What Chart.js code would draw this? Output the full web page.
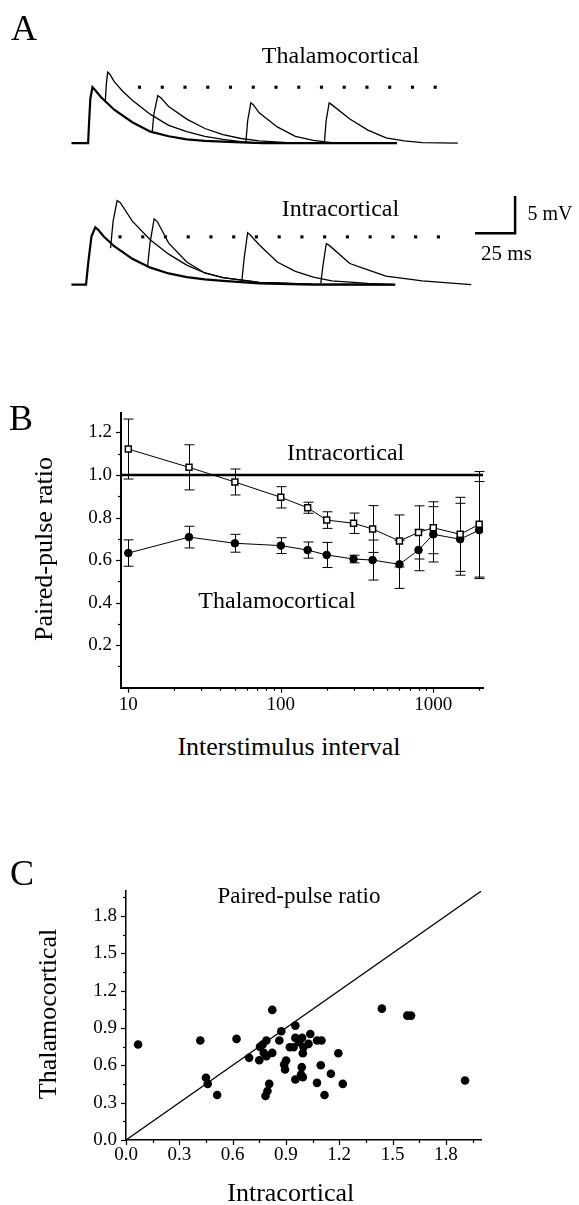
<!DOCTYPE html>
<html><head><meta charset="utf-8">
<script src="https://cdn.jsdelivr.net/npm/chart.js@4.4.1/dist/chart.umd.min.js"></script>
<style>
html,body{margin:0;padding:0;background:#fff;}
body{width:579px;height:1205px;position:relative;overflow:hidden;font-family:'Liberation Serif','Times New Roman',serif;color:#000;}
canvas{position:absolute;left:0;}
.t{position:absolute;white-space:nowrap;line-height:1;font-family:'Liberation Serif','Times New Roman',serif;color:#000;}
</style></head><body>
<canvas id="aTop" style="top:40px" width="579" height="130"></canvas>
<canvas id="aBot" style="top:170px" width="579" height="140"></canvas>
<canvas id="b" style="top:380px" width="579" height="340"></canvas>
<canvas id="c" style="top:870px" width="579" height="335"></canvas>
<script>
// ---------------- Panel A : traces (time in ms, potential in mV) ----------------
const tcControlT = [0, 10.4, 11.0, 11.8, 13.1, 15.0, 18.5, 26.7, 38.0, 49.3, 60.7, 72.0, 83.3, 94.6, 105.9, 120, 160, 203.2];
const tcControlV = [0, 0, 2.8, 6.0, 7.55, 7.1, 6.2, 4.51, 2.83, 1.56, 0.93, 0.51, 0.3, 0.21, 0.1, 0, 0, 0];
const tc10T = [21.1, 21.8, 22.6, 24.0, 26.7, 32.0, 38.0, 49.3, 60.7, 72.0, 83.3, 94.6, 105.9, 117.2, 194.2];
const tc10V = [5.6, 8.0, 9.58, 9.3, 8.31, 7.0, 5.78, 3.88, 2.41, 1.56, 0.93, 0.51, 0.21, 0, 0];
const tc40T = [50.4, 51.5, 53.9, 56.0, 60.7, 72.0, 83.3, 94.6, 105.9, 117.2, 139.8, 203.2];
const tc40V = [1.5, 4.0, 6.41, 6.1, 4.94, 3.25, 1.98, 1.14, 0.63, 0.3, 0, 0];
const tc100T = [108.9, 110.0, 112.0, 113.5, 117.2, 128.5, 139.8, 151.1, 162.5, 203.2];
const tc100V = [0.1, 3.0, 5.44, 5.2, 4.09, 2.19, 0.93, 0.38, 0.08, 0];
const tc150T = [157.9, 159.0, 160.9, 162.5, 173.8, 185.1, 196.4, 207.8, 219.0, 241.2];
const tc150V = [0, 3.0, 5.44, 5.2, 3.25, 1.77, 0.72, 0.30, 0.08, 0];
const tcDotsT = [42.5, 56.7, 70.9, 85.1, 99.3, 113.5, 127.7, 141.9, 156.1, 170.3, 184.5, 198.7, 212.9, 227.1];
const tcDotLevel = 7.55;

const icControlT = [0, 9.1, 10.5, 12.5, 14.9, 17.0, 20.0, 26.7, 38.0, 49.3, 60.7, 72.0, 83.3, 94.6, 117.2, 150, 202.1];
const icControlV = [0, 0, 3.0, 6.5, 7.68, 7.3, 6.5, 5.15, 3.46, 2.28, 1.5, 1.01, 0.7, 0.51, 0.17, 0, 0];
const ic10T = [24.4, 26.0, 28.5, 30.5, 38.0, 49.3, 60.7, 72.0, 83.3, 94.6, 117.2, 150, 202.1];
const ic10V = [4.9, 8.5, 11.27, 11.0, 8.52, 5.99, 4.09, 2.62, 1.56, 0.93, 0.30, 0.05, 0];
const ic40T = [47.5, 49.0, 51.6, 53.5, 60.7, 72.0, 83.3, 94.6, 117.2, 150, 202.1];
const ic40V = [2.4, 5.5, 8.82, 8.5, 5.57, 3.04, 1.56, 0.93, 0.30, 0.05, 0];
const ic100T = [106.3, 107.8, 110.0, 111.5, 117.2, 128.5, 139.8, 151.1, 162.5, 185.1, 202.1];
const ic100V = [0.3, 3.5, 6.96, 6.7, 5.36, 3.04, 1.77, 1.01, 0.51, 0.17, 0];
const ic150T = [155.7, 157.0, 159.1, 160.8, 173.8, 185.1, 196.4, 219.0, 249.6];
const ic150V = [0.2, 2.5, 5.49, 5.3, 2.83, 1.98, 1.14, 0.51, 0];
const icDotsT = [30.3, 44.5, 58.7, 72.9, 87.1, 101.3, 115.5, 129.7, 143.9, 158.1, 172.3, 186.5, 200.7, 214.9, 229.1];
const icDotLevel = 6.41;

const scaleBarT = [252, 277, 277];   // 25 ms
const scaleBarV = [6.9, 6.9, 11.9];  // 5 mV

// ---------------- Panel B : paired-pulse ratio vs interstimulus interval ----------------
const isi = [10, 25, 50, 100, 150, 200, 300, 400, 600, 800, 1000, 1500, 2000];
const intraMean = [1.122, 1.036, 0.967, 0.895, 0.846, 0.788, 0.773, 0.746, 0.690, 0.730, 0.752, 0.721, 0.768];
const intraErr  = [0.141, 0.106, 0.061, 0.050, 0.026, 0.039, 0.048, 0.110, 0.122, 0.125, 0.122, 0.174, 0.248];
const thalMean  = [0.633, 0.708, 0.679, 0.668, 0.647, 0.624, 0.605, 0.600, 0.580, 0.647, 0.721, 0.698, 0.741];
const thalErr   = [0.062, 0.051, 0.042, 0.037, 0.038, 0.059, 0.018, 0.094, 0.113, 0.097, 0.130, 0.169, 0.228];
const bRefLevel = 1.0;
const bXMajor = [10, 100, 1000];
const bXMinor = [20, 30, 40, 50, 60, 70, 80, 90, 200, 300, 400, 500, 600, 700, 800, 900, 2000];
const bYMajor = [0.2, 0.4, 0.6, 0.8, 1.0, 1.2];
const bYMinor = [0.1, 0.3, 0.5, 0.7, 0.9, 1.1];

// ---------------- Panel C : thalamocortical vs intracortical ----------------
const icPPR = [0.068, 0.418, 0.622, 0.450, 0.460, 0.513, 0.693, 0.750, 0.754, 0.769, 0.775, 0.790, 0.790, 0.823, 0.823, 0.863, 0.874, 0.785, 0.796, 0.806, 0.890, 0.901, 0.895, 0.922, 0.943, 0.953, 0.953, 0.974, 0.991, 0.999, 0.995, 0.989, 0.985, 0.953, 0.995, 1.037, 1.027, 1.075, 1.100, 1.096, 1.075, 1.117, 1.153, 1.195, 1.220, 1.440, 1.583, 1.604, 1.908];
const tcPPR = [0.767, 0.799, 0.812, 0.500, 0.451, 0.361, 0.660, 0.641, 0.748, 0.767, 0.700, 0.799, 0.673, 0.700, 1.045, 0.799, 0.873, 0.353, 0.393, 0.451, 0.606, 0.638, 0.566, 0.745, 0.745, 0.919, 0.820, 0.785, 0.820, 0.745, 0.697, 0.585, 0.526, 0.486, 0.505, 0.852, 0.772, 0.799, 0.799, 0.601, 0.459, 0.361, 0.532, 0.697, 0.451, 1.055, 0.999, 0.999, 0.478];
const identityLine = [0, 2];
const cMajor = [0, 0.3, 0.6, 0.9, 1.2, 1.5, 1.8];
const cMinor = [0.15, 0.45, 0.75, 1.05, 1.35, 1.65, 1.95];

// ---------------- helpers ----------------
Chart.defaults.font.family = "'Liberation Serif','Times New Roman',serif";
Chart.defaults.color = '#000';
const FONT = "'Liberation Serif','Times New Roman',serif";
const xy = (xs, ys) => xs.map((x, i) => ({x, y: ys[i]}));
const trace = (xs, ys, w) => ({data: xy(xs, ys), showLine: true, borderColor: '#000', borderWidth: w, pointRadius: 0, fill: false, tension: 0});
const dotRow = (xs, v) => ({data: xs.map(x => ({x, y: v})), showLine: false, pointStyle: 'rect', pointRadius: 2.2, backgroundColor: '#000', borderColor: '#000', borderWidth: 0});

const errorBars = {
  id: 'errorBars',
  beforeDatasetsDraw(chart, args, opts) {
    const {ctx} = chart, xs = chart.scales.x, ys = chart.scales.y;
    ctx.save(); ctx.strokeStyle = '#000'; ctx.lineWidth = 1;
    chart.data.datasets.forEach(ds => {
      if (!ds.err) return;
      ds.data.forEach((p, i) => {
        const px = Math.round(xs.getPixelForValue(p.x)) + 0.5;
        const t = ys.getPixelForValue(p.y + ds.err[i]), b = ys.getPixelForValue(p.y - ds.err[i]);
        ctx.beginPath();
        ctx.moveTo(px, t); ctx.lineTo(px, b);
        ctx.moveTo(px - opts.cap, t); ctx.lineTo(px + opts.cap, t);
        ctx.moveTo(px - opts.cap, b); ctx.lineTo(px + opts.cap, b);
        ctx.stroke();
      });
    });
    ctx.restore();
  }
};
const axisTicks = {
  id: 'axisTicks',
  afterDraw(chart, args, o) {
    const {ctx, chartArea: a} = chart, xs = chart.scales.x, ys = chart.scales.y;
    ctx.save(); ctx.strokeStyle = '#000'; ctx.lineWidth = o.width;
    const dx = (vals, len) => vals.forEach(v => { const p = Math.round(xs.getPixelForValue(v)) + 0.5; ctx.beginPath(); ctx.moveTo(p, a.bottom); ctx.lineTo(p, a.bottom + len); ctx.stroke(); });
    const dy = (vals, len) => vals.forEach(v => { const p = Math.round(ys.getPixelForValue(v)) + 0.5; ctx.beginPath(); ctx.moveTo(a.left, p); ctx.lineTo(a.left - len, p); ctx.stroke(); });
    dx(o.xMajor, o.majorLen); dx(o.xMinor, o.minorLen);
    dy(o.yMajor, o.majorLen); dy(o.yMinor, o.minorLen);
    ctx.restore();
  }
};

const A_T_MIN = -42.12, A_T_MAX = 314.4;
function traceChart(id, datasets, yMin, yMax) {
  return new Chart(document.getElementById(id), {
    type: 'scatter',
    data: {datasets},
    options: {
      responsive: false, devicePixelRatio: 1, animation: false,
      layout: {padding: 0},
      plugins: {legend: {display: false}, tooltip: {enabled: false}},
      scales: {
        x: {type: 'linear', display: false, min: A_T_MIN, max: A_T_MAX},
        y: {type: 'linear', display: false, min: yMin, max: yMax}
      }
    }
  });
}
traceChart('aTop', [
  dotRow(tcDotsT, tcDotLevel),
  trace(tc10T, tc10V, 1.3), trace(tc40T, tc40V, 1.3), trace(tc100T, tc100V, 1.3), trace(tc150T, tc150V, 1.3),
  trace(tcControlT, tcControlV, 2.2)
], -3.08, 13.38);
traceChart('aBot', [
  dotRow(icDotsT, icDotLevel),
  trace(scaleBarT, scaleBarV, 2.5),
  trace(ic10T, ic10V, 1.3), trace(ic40T, ic40V, 1.3), trace(ic100T, ic100V, 1.3), trace(ic150T, ic150V, 1.3),
  trace(icControlT, icControlV, 2.2)
], -2.87, 14.85);

// Panel B
const B_X_MIN = 8.956, B_X_MAX = 2118;
new Chart(document.getElementById('b'), {
  type: 'scatter',
  data: {datasets: [
    {data: xy(isi, intraMean), err: intraErr, showLine: true, borderColor: '#000', borderWidth: 1, pointStyle: 'rect', pointRadius: 4.2, pointBackgroundColor: '#fff', pointBorderColor: '#000', pointBorderWidth: 1.5},
    {data: xy(isi, thalMean), err: thalErr, showLine: true, borderColor: '#000', borderWidth: 1, pointStyle: 'circle', pointRadius: 3.8, pointBackgroundColor: '#000', pointBorderColor: '#000', pointBorderWidth: 1},
    {data: [{x: B_X_MIN, y: bRefLevel}, {x: B_X_MAX, y: bRefLevel}], showLine: true, borderColor: '#000', borderWidth: 2.5, pointRadius: 0}
  ]},
  options: {
    responsive: false, devicePixelRatio: 1, animation: false,
    layout: {padding: {left: 0, top: 33.3, right: 96, bottom: 0}},
    plugins: {legend: {display: false}, tooltip: {enabled: false},
      errorBars: {cap: 5},
      axisTicks: {xMajor: bXMajor, xMinor: bXMinor, yMajor: bYMajor, yMinor: bYMinor, majorLen: 5, minorLen: 3, width: 1.2}},
    scales: {
      x: {type: 'logarithmic', min: B_X_MIN, max: B_X_MAX,
        grid: {display: false, drawTicks: false}, border: {display: true, color: '#000', width: 2},
        ticks: {font: {size: 19, family: FONT}, color: '#000', padding: 6, maxRotation: 0, autoSkip: false, callback: v => String(v)},
        afterBuildTicks: s => { s.ticks = bXMajor.map(v => ({value: v})); },
        afterFit: s => { s.height = 32.3; }},
      y: {type: 'linear', min: 0, max: 1.29,
        grid: {display: false, drawTicks: false}, border: {display: true, color: '#000', width: 2},
        ticks: {font: {size: 19, family: FONT}, color: '#000', padding: 9, autoSkip: false, callback: v => Number(v).toFixed(1)},
        afterBuildTicks: s => { s.ticks = bYMajor.map(v => ({value: v})); },
        afterFit: s => { s.width = 121; }}
    }
  },
  plugins: [errorBars, axisTicks]
});

// Panel C
new Chart(document.getElementById('c'), {
  type: 'scatter',
  data: {datasets: [
    {data: xy(icPPR, tcPPR), showLine: false, pointStyle: 'circle', pointRadius: 4.3, pointBackgroundColor: '#000', pointBorderColor: '#000', pointBorderWidth: 0},
    {data: xy(identityLine, identityLine), showLine: true, borderColor: '#000', borderWidth: 1.3, pointRadius: 0}
  ]},
  options: {
    responsive: false, devicePixelRatio: 1, animation: false,
    layout: {padding: {left: 0, top: 21, right: 97.6, bottom: 0}},
    plugins: {legend: {display: false}, tooltip: {enabled: false},
      axisTicks: {xMajor: cMajor, xMinor: cMinor, yMajor: cMajor, yMinor: cMinor, majorLen: 5, minorLen: 3, width: 1.2}},
    scales: {
      x: {type: 'linear', min: 0, max: 2,
        grid: {display: false, drawTicks: false}, border: {display: true, color: '#000', width: 1.5},
        ticks: {font: {size: 19, family: FONT}, color: '#000', padding: 4, maxRotation: 0, autoSkip: false, callback: v => Number(v).toFixed(1)},
        afterBuildTicks: s => { s.ticks = cMajor.map(v => ({value: v})); },
        afterFit: s => { s.height = 65; }},
      y: {type: 'linear', min: 0, max: 2,
        grid: {display: false, drawTicks: false}, border: {display: true, color: '#000', width: 1.5},
        ticks: {font: {size: 19, family: FONT}, color: '#000', padding: 9, autoSkip: false, callback: v => Number(v).toFixed(1)},
        afterBuildTicks: s => { s.ticks = cMajor.map(v => ({value: v})); },
        afterFit: s => { s.width = 126; }}
    }
  },
  plugins: [axisTicks]
});

// ---------------- text ----------------
function label(text, cx, cy, size, rot) {
  const d = document.createElement('div');
  d.className = 't';
  d.textContent = text;
  d.style.fontSize = size + 'px';
  d.style.left = cx + 'px';
  d.style.top = cy + 'px';
  d.style.transform = 'translate(-50%,-50%)' + (rot ? ' rotate(' + rot + 'deg)' : '');
  document.body.appendChild(d);
}
label('A', 24, 28, 36);
label('Thalamocortical', 340.5, 55, 24);
label('Intracortical', 340.5, 208, 24);
label('5 mV', 550, 213, 20);
label('25 ms', 506.5, 253.3, 21);
label('B', 21, 417.5, 36);
label('Intracortical', 345.6, 451.7, 24);
label('Thalamocortical', 277, 600, 24);
label('Paired-pulse ratio', 44, 549, 26, -90);
label('Interstimulus interval', 289, 746.7, 26);
label('C', 22, 872.5, 36);
label('Paired-pulse ratio', 299, 895, 23);
label('Thalamocortical', 48, 1014, 26, -90);
label('Intracortical', 290.8, 1193, 26);
</script>
</body></html>
